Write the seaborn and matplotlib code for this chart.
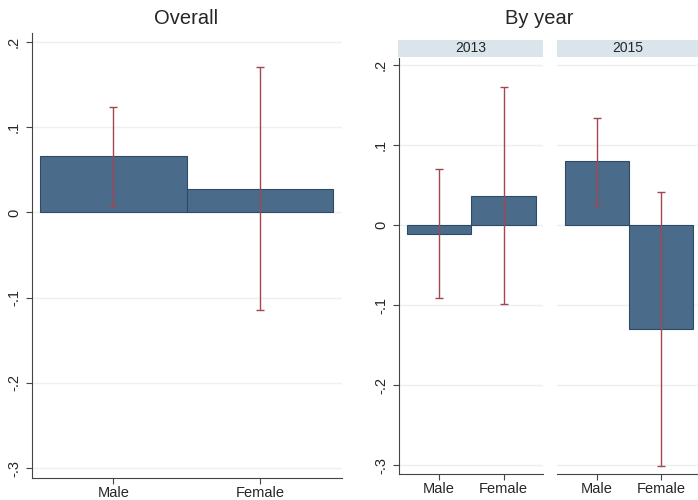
import numpy as np
import pandas as pd
import seaborn as sns
import matplotlib.pyplot as plt

# data
categories = ['Male', 'Female']
overall_est = [0.066, 0.028]
overall_lo = [0.007, -0.115]
overall_hi = [0.124, 0.171]

years = ['2013', '2015']
year_est = {'2013': [-0.011, 0.037], '2015': [0.080, -0.130]}
year_lo = {'2013': [-0.091, -0.099], '2015': [0.025, -0.301]}
year_hi = {'2013': [0.070, 0.173], '2015': [0.134, 0.041]}

yticks = [0.2, 0.1, 0.0, -0.1, -0.2, -0.3]
ytick_labels = ['.2', '.1', '0', '-.1', '-.2', '-.3']

sns.set_style('white')
plt.rcParams['font.family'] = ['Liberation Sans', 'DejaVu Sans']

bar_color = '#4b6b8b'
edge_color = '#2e4a68'
err_color = '#a34650'
grid_color = '#eaf1f2'
strip_color = '#d9e5eb'
W, H = 698, 500


def px_axes(fig, x0, y0, x1, y1):
    return fig.add_axes([x0 / W, 1 - y1 / H, (x1 - x0) / W, (y1 - y0) / H])


def draw_panel(ax, est, lo, hi, ylim, xlim, show_y=True):
    df = pd.DataFrame({'sex': categories, 'est': est})
    sns.barplot(data=df, x='sex', y='est', order=categories, width=1,
                color=bar_color, saturation=1, edgecolor=edge_color,
                linewidth=0.8, errorbar=None, ax=ax, zorder=2)
    pos = np.arange(len(categories))
    est = np.array(est)
    yerr = [est - np.array(lo), np.array(hi) - est]
    ax.errorbar(pos, est, yerr=yerr, fmt='none', ecolor=err_color,
                elinewidth=1.0, capsize=2.6, capthick=1.0, zorder=3)
    ax.set_ylim(*ylim)
    ax.set_xlim(*xlim)
    ax.set_yticks(yticks)
    ax.set_xlabel('')
    ax.set_ylabel('')
    for y in yticks:
        ax.axhline(y, color=grid_color, lw=1.0, zorder=0)
    for s in ['top', 'right']:
        ax.spines[s].set_visible(False)
    ax.spines['bottom'].set_color('#444444')
    ax.spines['left'].set_color('#444444')
    ax.tick_params(axis='x', length=4, width=0.8, color='#444444',
                   labelsize=10.5, pad=2, bottom=True)
    if show_y:
        ax.set_yticklabels(ytick_labels, rotation=90, va='center')
        ax.tick_params(axis='y', length=4, width=0.8, color='#444444',
                       labelsize=10.5, pad=4, left=True)
    else:
        ax.spines['left'].set_visible(False)
        ax.set_yticklabels([])
        ax.tick_params(axis='y', length=0, left=False)


fig = plt.figure(figsize=(W / 100, H / 100), dpi=100)

# overall
ax0 = px_axes(fig, 32, 33, 342, 478)
draw_panel(ax0, overall_est, overall_lo, overall_hi,
           (-0.3117, 0.2105), (-0.555, 1.56))
fig.text(186 / W, 1 - 18 / H, 'Overall', ha='center', va='center', fontsize=14.5)

# by year
panel_x = {'2013': (399, 543, (-0.62, 1.61)), '2015': (557, 698, (-0.62, 1.58))}
for i, yr in enumerate(years):
    x0, x1, xl = panel_x[yr]
    ax = px_axes(fig, x0, 58, x1, 474)
    draw_panel(ax, year_est[yr], year_lo[yr], year_hi[yr],
               (-0.311, 0.209), xl, show_y=(i == 0))
    strip = px_axes(fig, x0 - 1 if i == 0 else x0, 40, x1, 57)
    strip.set_facecolor(strip_color)
    strip.set_xticks([])
    strip.set_yticks([])
    for s in strip.spines.values():
        s.set_visible(False)
    strip.text(0.5, 0.5, yr, ha='center', va='center', fontsize=10,
               transform=strip.transAxes)

fig.text(539 / W, 1 - 18 / H, 'By year', ha='center', va='center', fontsize=14.5)

fig.savefig('out.png', dpi=100, facecolor='white')
